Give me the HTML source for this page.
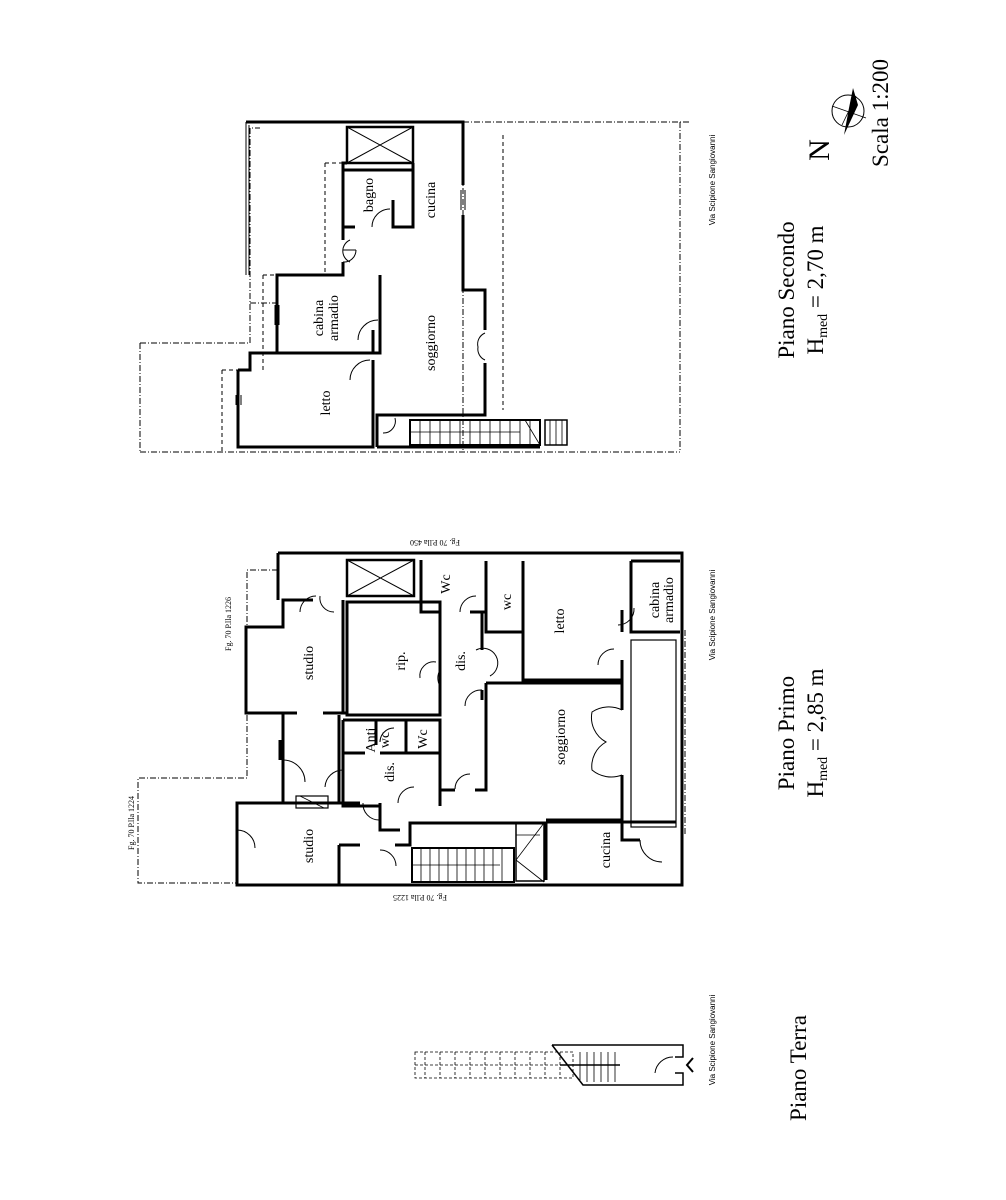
<!DOCTYPE html>
<html><head><meta charset="utf-8"><style>
html,body{margin:0;padding:0;background:#fff;}
svg{display:block;}
text{font-family:"Liberation Serif",serif;fill:#000;}
.s{font-family:"Liberation Sans",sans-serif;}
</style></head><body>
<svg width="1006" height="1200" viewBox="0 0 1006 1200" xmlns="http://www.w3.org/2000/svg">
<g fill="none" stroke="#000">
<!-- ============ PIANO SECONDO ============ -->
<g stroke-width="1" stroke-dasharray="6,2,1,2">
<path d="M463,122 H690"/>
<path d="M463,122 V452 M680,122 V452"/>
<path d="M140,452 H680"/>
<path d="M140,343 H250 V128 H260 M250,303 H277"/>
<path d="M140,343 V452"/>
</g>
<g stroke-width="1" stroke-dasharray="4,3">
<path d="M503,135 V410"/>
<path d="M325,163 H343 M325,163 V275"/>
<path d="M263,275 H277 M263,275 V370"/>
<path d="M222,370 H238 M222,370 V452"/>
</g>
<path d="M246,122 V275 M249,125 V275" stroke-width="1"/>
<g stroke-width="3">
<path d="M246,122 H463 V185 M463,215 V290 H485 V330 M485,363 V415 H403"/>
<path d="M238,370 V447 H373 V360"/>
<path d="M377,447 H540"/>
<path d="M238,370 H250 V353 H277 V275 H343 V262 M343,240 V163 H347"/>
<path d="M277,353 H373 M373,353 V330"/>
<path d="M380,275 V353 H368"/>
<path d="M343,170 H413 V227 H393 V200"/>
<path d="M343,227 H355"/>
<path d="M413,163 V227"/>
<path d="M377,447 V415 H403"/>
</g>
<rect x="347" y="127" width="66" height="36" stroke-width="2.5"/>
<path d="M347,127 L413,163 M413,127 L347,163" stroke-width="1"/>
<rect x="410" y="420" width="130" height="25" stroke-width="2"/>
<g stroke-width="0.8"><path d="M420,420V445M430,420V445M440,420V445M450,420V445M460,420V445M470,420V445M480,420V445M490,420V445M500,420V445M510,420V445M520,420V445M530,420V445"/><path d="M525,420 L540,445"/><path d="M410,432 H520"/></g>
<rect x="545" y="420" width="22" height="25" stroke-width="1.5"/>
<path d="M550,420V445M556,420V445M562,420V445" stroke-width="0.8"/>
<g stroke-width="1">
<path d="M372,227 A18,18 0 0 1 390,209"/>
<path d="M350,240 A12,12 0 0 0 350,262 M343,250 H356 M356,250 A12,12 0 0 1 343,262"/>
<path d="M358,340 A20,20 0 0 1 378,320"/>
<path d="M350,380 A20,20 0 0 1 370,360"/>
<path d="M383,433 A12,12 0 0 0 395,418"/>
<path d="M485,333 A12,12 0 0 0 478,347 A12,12 0 0 0 485,360"/>
</g>
<path d="M461,190V210M465,190V210M241,395V405M236,395V405M279,305V325M275,305V325" stroke-width="1"/>

<!-- ============ PIANO PRIMO ============ -->
<g stroke-width="1" stroke-dasharray="6,2,1,2">
<path d="M278,570 H247 V778 H138 V883 H237"/>
<path d="M685,630 V835"/>
</g>
<g stroke-width="3">
<path d="M278,553 H682 V885 H237 V803 H283 V713 H246 V627 H283 V600 H313"/>
<path d="M278,553 V600"/>
<path d="M343,600 V713 M323,713 H347 M297,713 H246"/>
<path d="M347,602 H440 V715 H347 Z"/>
<path d="M421,560 V596 M421,596 V612 H440 M470,612 H486"/>
<path d="M486,561 V632 H523 V561"/>
<path d="M523,632 V680 H622 V660 M622,632 V610"/>
<path d="M631,561 V632 H680"/>
<path d="M631,561 H680"/>
<path d="M486,683 H622 V710 M622,775 V820 H546"/>
<path d="M486,683 V740 M482,612 V650 M482,690 V700"/>
<path d="M546,822 V880 M546,822 H676 M622,822 V840 H640"/>
<path d="M343,720 H440 V806 M343,720 V806 H380 M343,753 H365 M380,753 H440 M376,720 V745 M406,720 V753"/>
<path d="M339,715 V803"/>
<path d="M440,720 V790 H455"/>
<path d="M475,790 H486 V735"/>
<path d="M283,803 H360 M380,803 V830 H400"/>
<path d="M339,845 V885 M339,845 H360 M395,845 H410 V823 H546"/>
<path d="M280,740 V760"/>
</g>
<rect x="347" y="560" width="67" height="36" stroke-width="2.5"/>
<path d="M347,560 L414,596 M414,560 L347,596" stroke-width="1"/>
<rect x="631" y="640" width="45" height="187" stroke-width="1.2"/>
<rect x="296" y="796" width="32" height="12" stroke-width="1.2"/>
<path d="M300,796 L324,808" stroke-width="0.8"/>
<rect x="412" y="848" width="102" height="34" stroke-width="2"/>
<g stroke-width="0.8"><path d="M421,848V882M430,848V882M439,848V882M448,848V882M457,848V882M466,848V882M475,848V882M484,848V882M493,848V882M502,848V882"/><path d="M412,865 H500"/></g>
<rect x="516" y="823" width="28" height="58" stroke-width="1.5"/>
<path d="M544,823 L516,860 L544,882 M516,835 H540" stroke-width="0.8"/>
<g stroke-width="1">
<path d="M300,612 A16,16 0 0 1 316,596"/>
<path d="M320,596 A14,14 0 0 0 334,612"/>
<path d="M283,760 A22,22 0 0 1 305,782"/>
<path d="M325,787 A18,18 0 0 1 343,770"/>
<path d="M237,830 A18,18 0 0 1 255,848"/>
<path d="M363,803 A16,16 0 0 0 379,820"/>
<path d="M380,850 A16,16 0 0 1 396,866"/>
<path d="M398,803 A16,16 0 0 1 414,787"/>
<path d="M455,789 A15,15 0 0 1 470,774"/>
<path d="M440,670 A16,16 0 0 0 440,686 M420,678 A14,14 0 0 1 436,662"/>
<path d="M476,650 A14,14 0 0 1 490,676"/>
<path d="M460,612 A16,16 0 0 1 476,596"/>
<path d="M465,706 A16,16 0 0 1 482,690"/>
<path d="M380,742 A14,14 0 0 1 394,728"/>
<path d="M598,665 A16,16 0 0 1 614,649"/>
<path d="M622,710 A30,30 0 0 0 592,712 A28,28 0 0 0 606,742 A28,28 0 0 0 592,770 A30,30 0 0 0 622,775"/>
<path d="M618,625 A16,16 0 0 0 634,608"/>
<path d="M640,840 A22,22 0 0 0 662,862"/>
</g>
<path d="M567,820 H600" stroke-width="3" stroke-dasharray="2,1"/>

<!-- ============ PIANO TERRA ============ -->
<g stroke-width="0.8" stroke-dasharray="3,2">
<rect x="415" y="1052" width="158" height="26"/>
<path d="M415,1065 H573 M425,1052V1078M440,1052V1078M455,1052V1078M470,1052V1078M485,1052V1078M500,1052V1078M515,1052V1078M530,1052V1078M545,1052V1078M560,1052V1078"/>
</g>
<path d="M552,1045 H683 V1057 H675 M552,1045 L583,1085 H683 V1073 H675 M560,1065 H620" stroke-width="1.5"/>
<path d="M580,1052V1080M587,1052V1082M594,1052V1082M601,1052V1082M608,1052V1082M615,1052V1082" stroke-width="0.8"/>
<path d="M655,1073 A18,18 0 0 1 673,1057" stroke-width="1"/>
<path d="M693,1058 L687,1065 L693,1072" stroke-width="2"/>

<circle cx="848" cy="111" r="16" stroke-width="1"/>
<path d="M832,106 L866,118 M842,125 L856,96" stroke-width="0.8"/>
</g>
<path d="M853,88 L858,105 L844,135 L849,108 Z" fill="#000"/>

<g font-size="14" text-anchor="middle">
<text transform="translate(373,195) rotate(-90)">bagno</text>
<text transform="translate(435,200) rotate(-90)">cucina</text>
<text transform="translate(323,318) rotate(-90)">cabina</text>
<text transform="translate(338,318) rotate(-90)">armadio</text>
<text transform="translate(435,343) rotate(-90)">soggiorno</text>
<text transform="translate(330,403) rotate(-90)">letto</text>
<text transform="translate(313,663) rotate(-90)">studio</text>
<text transform="translate(405,661) rotate(-90)">rip.</text>
<text transform="translate(465,661) rotate(-90)">dis.</text>
<text transform="translate(450,584) rotate(-90)">Wc</text>
<text transform="translate(511,602) rotate(-90)">wc</text>
<text transform="translate(564,621) rotate(-90)">letto</text>
<text transform="translate(659,600) rotate(-90)">cabina</text>
<text transform="translate(673,600) rotate(-90)">armadio</text>
<text transform="translate(565,737) rotate(-90)">soggiorno</text>
<text transform="translate(375,740) rotate(-90)">Anti</text>
<text transform="translate(389,740) rotate(-90)">wc</text>
<text transform="translate(427,739) rotate(-90)">Wc</text>
<text transform="translate(394,772) rotate(-90)">dis.</text>
<text transform="translate(313,846) rotate(-90)">studio</text>
<text transform="translate(610,850) rotate(-90)">cucina</text>
</g>
<g font-size="8" text-anchor="middle">
<text transform="translate(231,624) rotate(-90)">Fg. 70 P.lla 1226</text>
<text transform="translate(134,823) rotate(-90)">Fg. 70 P.lla 1224</text>
<text transform="translate(435,540) rotate(180)">Fg. 70 P.lla 450</text>
<text transform="translate(420,895) rotate(180)">Fg. 70 P.lla 1225</text>
<text class="s" transform="translate(715,180) rotate(-90)">Via Scipione Sangiovanni</text>
<text class="s" transform="translate(715,615) rotate(-90)">Via Scipione Sangiovanni</text>
<text class="s" transform="translate(715,1040) rotate(-90)">Via Scipione Sangiovanni</text>
</g>
<g font-size="23" text-anchor="middle">
<text transform="translate(794,290) rotate(-90)">Piano Secondo</text>
<text transform="translate(823,290) rotate(-90)">H<tspan font-size="14" dy="4">med</tspan><tspan dy="-4"> = 2,70 m</tspan></text>
<text transform="translate(794,733) rotate(-90)">Piano Primo</text>
<text transform="translate(823,733) rotate(-90)">H<tspan font-size="14" dy="4">med</tspan><tspan dy="-4"> = 2,85 m</tspan></text>
<text transform="translate(806,1068) rotate(-90)">Piano Terra</text>
<text transform="translate(888,113) rotate(-90)">Scala 1:200</text>
<text font-size="30" transform="translate(829,150) rotate(-90)">N</text>
</g>
</svg>
</body></html>
